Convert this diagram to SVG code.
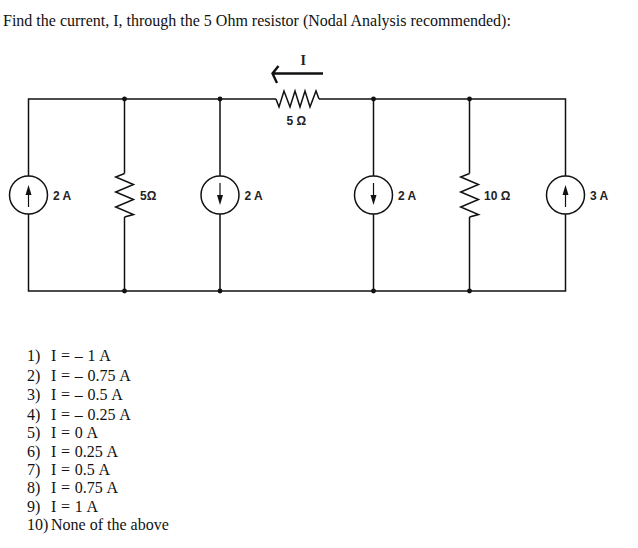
<svg xmlns="http://www.w3.org/2000/svg" width="638" height="548" viewBox="0 0 638 548">
<style>
.t{font-family:"Liberation Serif","Times New Roman",serif;font-size:16px;fill:#111}
.o{word-spacing:.7px}
.l{font-family:"Liberation Sans",Arial,sans-serif;font-size:12px;font-weight:bold;fill:#222}
.w{fill:none;stroke:#111;stroke-width:1.5}
.c{fill:#fff;stroke:#111;stroke-width:1.5}
.a{stroke:#111;stroke-width:1.2;fill:none}
.h{fill:#111;stroke:none}
.d{fill:#111}
</style>
<rect width="638" height="548" fill="#fff"/>
<text class="t" x="3" y="26">Find the current, I, through the 5 Ohm resistor (Nodal Analysis recommended):</text>
<g id="wires" class="w">
<path d="M28.5 176V99H276M319 99H565.5V176M565.5 214V291H28.5V214"/>
<path d="M124.5 99V173.5M124.5 217V291"/>
<path d="M220 99V176M220 214V291"/>
<path d="M373.5 99V176M373.5 214V291"/>
<path d="M469.5 99V173.5M469.5 217V291"/>
</g>
<g id="junctions">
<circle class="d" cx="124.5" cy="99" r="2.4"/><circle class="d" cx="220" cy="99" r="2.4"/><circle class="d" cx="373.5" cy="99" r="2.4"/><circle class="d" cx="469.5" cy="99" r="2.4"/>
<circle class="d" cx="124.5" cy="291" r="2.4"/><circle class="d" cx="220" cy="291" r="2.4"/><circle class="d" cx="373.5" cy="291" r="2.4"/><circle class="d" cx="469.5" cy="291" r="2.4"/>
</g>
<g id="source-2a-left">
<circle class="c" cx="28.5" cy="195" r="19"/><path class="a" d="M28.5 207V190"/><path class="h" d="M28.5 185L25.5 195H31.5Z"/>
<text class="l" x="53" y="200">2 A</text></g>
<g id="resistor-5-left">
<path class="w" d="M124.5 173.500L115.700 177L133.500 184.500L115.700 192L133.500 199.500L115.700 207L133.500 214.500L124.500 217"/>
<text class="l" x="140" y="200">5Ω</text></g>
<g id="source-2a-mid">
<circle class="c" cx="220" cy="195" r="19"/><path class="a" d="M220 183V200"/><path class="h" d="M220 205L217 195H223Z"/>
<text class="l" x="244.500" y="200">2 A</text></g>
<g id="resistor-5-top">
<path class="w" d="M276 99L279 107L284 91L290 107L295 91L300 107L305 91L310 107L316 91L319 99"/>
<text class="l" x="286.500" y="125">5 Ω</text></g>
<g id="current-arrow">
<path d="M323 73.500H273M278.500 66L272.500 73.500L277 83" fill="none" stroke="#111" stroke-width="2.400"/>
<text x="300.500" y="65" font-family="Liberation Serif,serif" font-size="14" font-weight="bold" fill="#222">I</text></g>
<g id="source-2a-right">
<circle class="c" cx="373.500" cy="195" r="19"/><path class="a" d="M373.500 183V200"/><path class="h" d="M373.500 205L370.500 195H376.500Z"/>
<text class="l" x="398" y="200">2 A</text></g>
<g id="resistor-10">
<path class="w" d="M469.500 173.500L460.700 177L478.500 184.500L460.700 192L478.500 199.500L460.700 207L478.500 214.500L469.500 217"/>
<text class="l" x="484" y="200">10 Ω</text></g>
<g id="source-3a">
<circle class="c" cx="565.500" cy="195" r="19"/><path class="a" d="M565.500 207V190"/><path class="h" d="M565.500 185L562.500 195H568.500Z"/>
<text class="l" x="590" y="200">3 A</text></g>
<g id="answers">
<text class="t" x="27" y="361">1)</text><text class="t o" x="51" y="361">I = – 1 A</text>
<text class="t" x="27" y="381">2)</text><text class="t o" x="51" y="381">I = – 0.75 A</text>
<text class="t" x="27" y="400">3)</text><text class="t o" x="51" y="400">I = – 0.5 A</text>
<text class="t" x="27" y="420">4)</text><text class="t o" x="51" y="420">I = – 0.25 A</text>
<text class="t" x="27" y="438">5)</text><text class="t o" x="51" y="438">I = 0 A</text>
<text class="t" x="27" y="457">6)</text><text class="t o" x="51" y="457">I = 0.25 A</text>
<text class="t" x="27" y="475">7)</text><text class="t o" x="51" y="475">I = 0.5 A</text>
<text class="t" x="27" y="493">8)</text><text class="t o" x="51" y="493">I = 0.75 A</text>
<text class="t" x="27" y="512">9)</text><text class="t o" x="51" y="512">I = 1 A</text>
<text class="t" x="27" y="530">10)</text><text class="t" x="51" y="530">None of the above</text>
</g>
</svg>
